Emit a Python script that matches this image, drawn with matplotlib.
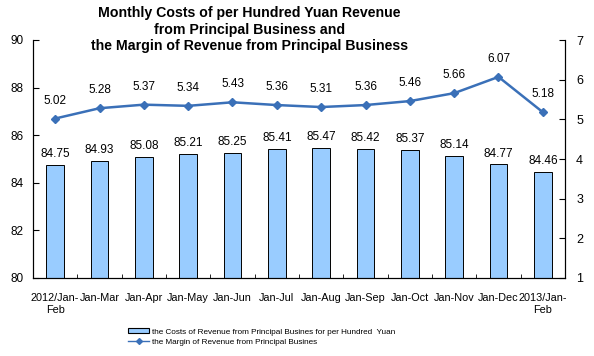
import numpy as np
import matplotlib.pyplot as plt
from matplotlib.lines import Line2D
from matplotlib.patches import Patch

plt.rcParams['font.family'] = ['Liberation Sans', 'DejaVu Sans']

months = ['2012/Jan-\nFeb', 'Jan-Mar', 'Jan-Apr', 'Jan-May', 'Jan-Jun', 'Jan-Jul',
          'Jan-Aug', 'Jan-Sep', 'Jan-Oct', 'Jan-Nov', 'Jan-Dec', '2013/Jan-\nFeb']
costs = [84.75, 84.93, 85.08, 85.21, 85.25, 85.41, 85.47, 85.42, 85.37, 85.14, 84.77, 84.46]
margin = [5.02, 5.28, 5.37, 5.34, 5.43, 5.36, 5.31, 5.36, 5.46, 5.66, 6.07, 5.18]

bar_color = '#99CCFF'
line_color = '#3A70B8'

fig = plt.figure(figsize=(5.94, 3.56), dpi=100)
ax = fig.add_axes([33 / 594, 1 - 278 / 356, 532 / 594, 238 / 356])
ax2 = ax.twinx()

x = np.arange(len(months))
ax.bar(x, costs, width=0.4, color=bar_color, edgecolor='black', linewidth=0.7, zorder=2)
for xi, v in zip(x, costs):
    ax.text(xi, v + 0.2, f'{v:.2f}', ha='center', va='bottom', fontsize=8.5)

ax.set_ylim(80, 90)
ax.set_yticks(range(80, 91, 2))
ax.set_xlim(-0.5, len(months) - 0.5)
ax.set_xticks(x)
ax.set_xticklabels(months, fontsize=7.8, va='top')
ax.tick_params(axis='x', length=0, pad=11)
ax.set_xticks(np.arange(-0.5, len(months), 1), minor=True)
ax.tick_params(axis='x', which='minor', direction='in', length=3)
ax.tick_params(axis='y', direction='in', length=4, labelsize=8.5, pad=7)
ax.spines['top'].set_visible(False)

ax2.plot(x, margin, color=line_color, linewidth=1.8, marker='D', markersize=4.5, zorder=3)
for xi, v in zip(x, margin):
    ax2.text(xi, v + 0.3, f'{v:.2f}', ha='center', va='bottom', fontsize=8.5)
ax2.set_ylim(1, 7)
ax2.set_yticks(range(1, 8))
ax2.tick_params(axis='y', direction='in', length=4, labelsize=9, pad=8)
ax2.spines['top'].set_visible(False)

fig.text(0.42, 0.982, 'Monthly Costs of per Hundred Yuan Revenue\nfrom Principal Business and\n'
         'the Margin of Revenue from Principal Business',
         ha='center', va='top', fontsize=10.2, fontweight='bold', linespacing=1.22)

handles = [Patch(facecolor=bar_color, edgecolor='black', linewidth=0.8),
           Line2D([0], [0], color=line_color, linewidth=1, marker='D', markersize=3)]
labels = ['the Costs of Revenue from Principal Busines for per Hundred  Yuan',
          'the Margin of Revenue from Principal Busines']
fig.legend(handles, labels, loc='center', bbox_to_anchor=(0.44, 0.053), frameon=False,
           fontsize=5.9, handlelength=2.6, handleheight=0.6, labelspacing=0.35,
           handletextpad=0.3, borderpad=0)

fig.savefig('out.png', dpi=100)
